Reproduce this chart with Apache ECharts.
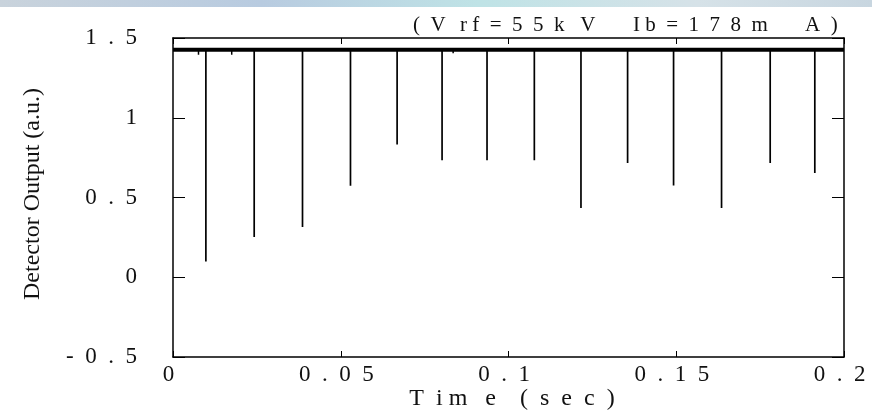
<!DOCTYPE html>
<html><head><meta charset="utf-8">
<script src="https://cdn.jsdelivr.net/npm/echarts@6/dist/echarts.min.js"></script>
<style>html,body{margin:0;padding:0;background:#fff}#c{width:872px;height:413px}</style>
</head><body><div id="c"></div>
<script>
// ---- data ----
const baseLevel = 1.427;
const spikeTimes = [0.0098, 0.0242, 0.0386, 0.0529, 0.0668, 0.0802, 0.0936, 0.1077, 0.1216, 0.1355, 0.1492, 0.1635, 0.1780, 0.1913];
const spikeMins  = [0.099, 0.252, 0.315, 0.574, 0.833, 0.733, 0.733, 0.733, 0.434, 0.716, 0.576, 0.434, 0.716, 0.654];
const smallDipTimes = [0.0076, 0.0175, 0.0835];
const smallDipMins  = [1.395, 1.395, 1.405];
const xTickValues = [0, 0.05, 0.1, 0.15, 0.2];
const xTickLabels = ['0', '0  .  0  5', '0  .  1', '0  .  1  5', '0  .  2'];
const yTickValues = [-0.5, 0, 0.5, 1, 1.5];
const yTickLabels = ['-  0  .  5', '0', '0  .  5', '1', '1  .  5'];
const titleParts = ['(  V', 'r f  =  5  5  k   V', 'I b  =  1  7  8  m', 'A  )'];
const xName = 'T  i m   e    (  s  e  c  )';
const yName = 'Detector Output (a.u.)';

const FONT = 'Liberation Serif';
function lookup(vals, labels, v) {
  for (let i = 0; i < vals.length; i++) if (Math.abs(vals[i] - v) < 1e-9) return labels[i];
  return '';
}
const chart = echarts.init(document.getElementById('c'), null, {renderer: 'canvas'});
const series = [];
series.push({
  type: 'line', xAxisIndex: 0, yAxisIndex: 0, symbol: 'none', silent: true, z: 3,
  lineStyle: {color: '#000', width: 4},
  data: [[0, baseLevel], [0.2, baseLevel]]
});
spikeTimes.forEach((t, i) => {
  series.push({
    type: 'line', xAxisIndex: 0, yAxisIndex: 0, symbol: 'none', silent: true, z: 2,
    lineStyle: {color: '#000', width: 1.7},
    data: [[t, baseLevel], [t, spikeMins[i]]]
  });
});
smallDipTimes.forEach((t, i) => {
  series.push({
    type: 'line', xAxisIndex: 0, yAxisIndex: 0, symbol: 'none', silent: true, z: 2,
    lineStyle: {color: '#000', width: 1.5},
    data: [[t, baseLevel], [t, smallDipMins[i]]]
  });
});
const axisLine = {show: true, onZero: false, lineStyle: {color: '#000', width: 1.5}};
const titleX = [413, 460, 633, 805];
const titleGraphics = titleParts.map((s, i) => ({
  type: 'text', z: 10, x: titleX[i], y: 25,
  style: {text: s, font: '21px "Liberation Serif"', fill: '#111', align: 'left', verticalAlign: 'middle'}
}));
chart.setOption({
  animation: false,
  backgroundColor: '#fff',
  grid: {left: 173, right: 28, top: 38, bottom: 56, containLabel: false},
  xAxis: [
    {type: 'value', min: 0, max: 0.2, interval: 0.05, position: 'bottom',
     axisLine: axisLine, splitLine: {show: false},
     axisTick: {inside: true, length: 6, lineStyle: {color: '#000', width: 1}},
     axisLabel: {fontFamily: FONT, fontSize: 23, color: '#111', margin: 6, padding: [0, 9, 0, 0],
       formatter: v => lookup(xTickValues, xTickLabels, v)}},
    {type: 'value', min: 0, max: 0.2, interval: 0.05, position: 'top',
     axisLine: axisLine, splitLine: {show: false},
     axisTick: {inside: true, length: 6, lineStyle: {color: '#000', width: 1}},
     axisLabel: {show: false}}
  ],
  yAxis: [
    {type: 'value', min: -0.5, max: 1.5, interval: 0.5, position: 'left',
     axisLine: axisLine, splitLine: {show: false},
     axisTick: {inside: true, length: 12, lineStyle: {color: '#000', width: 1}},
     axisLabel: {fontFamily: FONT, fontSize: 23, color: '#111', margin: 36,
       formatter: v => lookup(yTickValues, yTickLabels, v)}},
    {type: 'value', min: -0.5, max: 1.5, interval: 0.5, position: 'right',
     axisLine: axisLine, splitLine: {show: false},
     axisTick: {inside: true, length: 12, lineStyle: {color: '#000', width: 1}},
     axisLabel: {show: false}}
  ],
  series: series,
  graphic: [
    {type: 'rect', left: 0, top: 0, z: -1, shape: {width: 872, height: 7},
     style: {fill: new echarts.graphic.LinearGradient(0, 0, 1, 0, [
       {offset: 0, color: '#c9d3dc'}, {offset: 0.3, color: '#b8cbe0'},
       {offset: 0.55, color: '#bfe3e6'}, {offset: 0.8, color: '#d6e2e8'}, {offset: 1, color: '#c8d6e0'}])}},
    ...titleGraphics,
    {type: 'text', z: 10, x: 512, y: 399,
     style: {text: xName, font: '24px "Liberation Serif"', fill: '#111', align: 'center', verticalAlign: 'middle'}},
    {type: 'text', z: 10, x: 33, y: 194, rotation: Math.PI / 2,
     style: {text: yName, font: '24px "Liberation Serif"', fill: '#111', align: 'center', verticalAlign: 'middle'}}
  ]
});
</script></body></html>
